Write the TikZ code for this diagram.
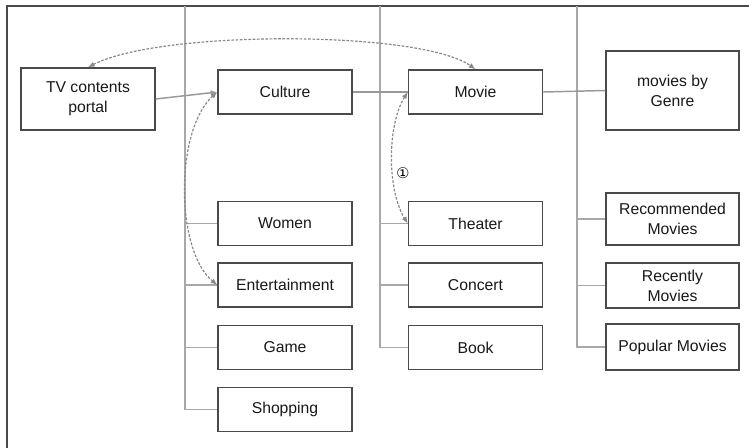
\documentclass[tikz,border=0pt]{standalone}
\usepackage{fontspec}
\setmainfont{Liberation Sans}
\newfontfamily\symfont{DejaVu Sans}
\usetikzlibrary{arrows.meta}
\definecolor{boxline}{HTML}{4A4A4A}
\definecolor{conn}{HTML}{999999}
\definecolor{vline}{HTML}{A8A8A8}
\definecolor{dashc}{HTML}{888888}
\tikzset{
  box/.style={draw=boxline, line width=1.1pt, fill=white, inner sep=0pt, align=center,
    minimum width=100.5pt, minimum height=33pt, text=black!90,
    font=\fontsize{11.8}{15}\selectfont},
  vrule/.style={draw=vline, line width=1.1pt},
  solidconn/.style={draw=conn, line width=1.1pt},
  dashconn/.style={draw=dashc, line width=0.9pt, dash pattern=on 2pt off 1.2pt,
    {Latex[length=5pt,width=4pt]}-{Latex[length=5pt,width=4pt]}},
}
\begin{document}
\begin{tikzpicture}[x=0.75pt,y=-0.75pt]
\useasboundingbox (0,0) rectangle (749,447);
% frame
\draw[boxline, line width=1.2pt] (7,460) -- (7,6) -- (760,6);
% vertical line tops
\coordinate (v1top) at (185,6);
\coordinate (v2top) at (380,6);
\coordinate (v3top) at (577,6);
% nodes
\node[box, minimum height=46.5pt] (tv) at (88,99) {TV contents\\portal};
\node[box] (culture) at (285,92) {Culture};
\node[box] (movie) at (475.5,92) {Movie};
\node[box, minimum height=59.25pt, minimum width=99.75pt] (genre) at (672.5,90.5) {movies by\\Genre};
\node[box] (women) at (285,223.5) {Women};
\node[box] (ent) at (285,285) {Entertainment};
\node[box] (game) at (285,347.5) {Game};
\node[box] (shop) at (285,409.5) {Shopping};
\node[box] (theater) at (475.5,223.5) {Theater};
\node[box] (concert) at (475.5,285) {Concert};
\node[box] (book) at (475.5,347.5) {Book};
\node[box, minimum width=99.75pt, minimum height=39pt] (rec) at (672.5,219) {Recommended\\Movies};
\node[box, minimum width=99.75pt, minimum height=33.75pt] (recent) at (672.5,285.5) {Recently\\Movies};
\node[box, minimum width=99.75pt, minimum height=34.5pt] (pop) at (672.5,347) {Popular Movies};
% tree lines
\draw[vrule] (v1top) |- (shop.west);
\draw[vrule] (v1top |- women.west) -- (women.west);
\draw[vrule] (v1top |- ent.west) -- (ent.west);
\draw[vrule] (v1top |- game.west) -- (game.west);
\draw[vrule] (v2top) |- (book.west);
\draw[vrule] (v2top |- theater.west) -- (theater.west);
\draw[vrule] (v2top |- concert.west) -- (concert.west);
\draw[vrule] (v3top) |- (pop.west);
\draw[vrule] (v3top |- rec.west) -- (rec.west);
\draw[vrule] (v3top |- recent.west) -- (recent.west);
% solid connectors
\draw[solidconn, -{Latex[length=5pt,width=4pt]}] (tv.east) -- (culture.west);
\draw[solidconn] (culture.east) -- (movie.west);
\draw[solidconn] (movie.east) -- (genre.west);
% dashed curves
\draw[dashconn] (tv.north) .. controls (160,30) and (420,30) .. (movie.north);
\draw[dashconn] (culture.west) .. controls (175,130) and (175,250) .. (ent.west);
\draw[dashconn] (movie.west) .. controls (387,125) and (387,190) .. (theater.west);
\node[inner sep=0pt, font=\symfont\fontsize{11}{12}\selectfont] (one) at (403,173) {①};
\end{tikzpicture}
\end{document}
